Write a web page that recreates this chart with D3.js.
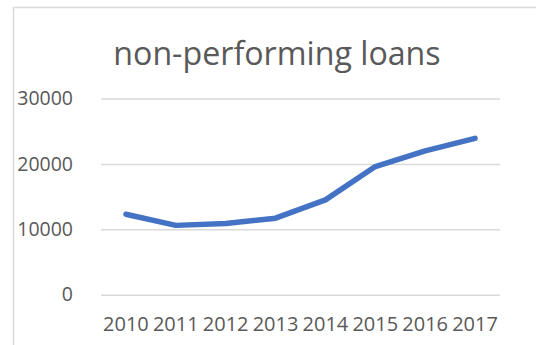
<!DOCTYPE html>
<html>
<head>
<meta charset="utf-8">
<script src="https://cdn.jsdelivr.net/npm/d3@7"></script>
<style>
  html, body { margin: 0; padding: 0; background: #fff; }
  svg { display: block; }
  text { font-family: "Open Sans", sans-serif; fill: #595959; }
</style>
</head>
<body>
<svg id="chart" width="536" height="345"></svg>
<script>
// Non-performing loans by year
const years = ["2010", "2011", "2012", "2013", "2014", "2015", "2016", "2017"];
const loans = [12300, 10600, 10900, 11700, 14500, 19600, 22000, 23900];
const yTicks = [0, 10000, 20000, 30000];
const chartTitle = "non-performing loans";

const svg = d3.select("#chart");
const W = 536, H = 345;
const plot = { left: 101, right: 500, top: 98.5, bottom: 294.7 };

// chart frame (left and top edges visible)
svg.append("path")
  .attr("d", `M13.5,${H} V7.5 H${W}`)
  .attr("fill", "none")
  .attr("stroke", "#d9d9d9")
  .attr("stroke-width", 1.5);

const x = d3.scaleBand().domain(years).range([plot.left, plot.right]);
const y = d3.scaleLinear().domain([0, 30000]).range([plot.bottom, plot.top]);

// gridlines + y labels
const yAxis = d3.axisLeft(y).tickValues(yTicks).tickSize(-(plot.right - plot.left)).tickPadding(28).tickFormat(d3.format("d"));
const gy = svg.append("g").attr("transform", `translate(${plot.left},0)`).call(yAxis);
gy.select(".domain").remove();
gy.selectAll(".tick line").attr("stroke", "#d9d9d9").attr("stroke-width", 1.5);
gy.selectAll(".tick text")
  .attr("font-size", 19.5)
  .attr("font-family", "'Open Sans', sans-serif")
  .attr("fill", "#595959");

// x labels
const xAxis = d3.axisBottom(x).tickSize(0).tickPadding(22);
const gx = svg.append("g").attr("transform", `translate(0,${plot.bottom})`).call(xAxis);
gx.select(".domain").remove();
gx.selectAll(".tick text")
  .attr("font-size", 20)
  .attr("font-family", "'Open Sans', sans-serif")
  .attr("fill", "#595959");

// series line
const line = d3.line()
  .x((d, i) => x(years[i]) + x.bandwidth() / 2)
  .y(d => y(d));
svg.append("path")
  .datum(loans)
  .attr("d", line)
  .attr("fill", "none")
  .attr("stroke", "#4472c4")
  .attr("stroke-width", 5.5)
  .attr("stroke-linecap", "round")
  .attr("stroke-linejoin", "round");

// title
svg.append("text")
  .attr("x", 277)
  .attr("y", 65)
  .attr("text-anchor", "middle")
  .attr("font-size", 32.2)
  .text(chartTitle);
</script>
</body>
</html>
